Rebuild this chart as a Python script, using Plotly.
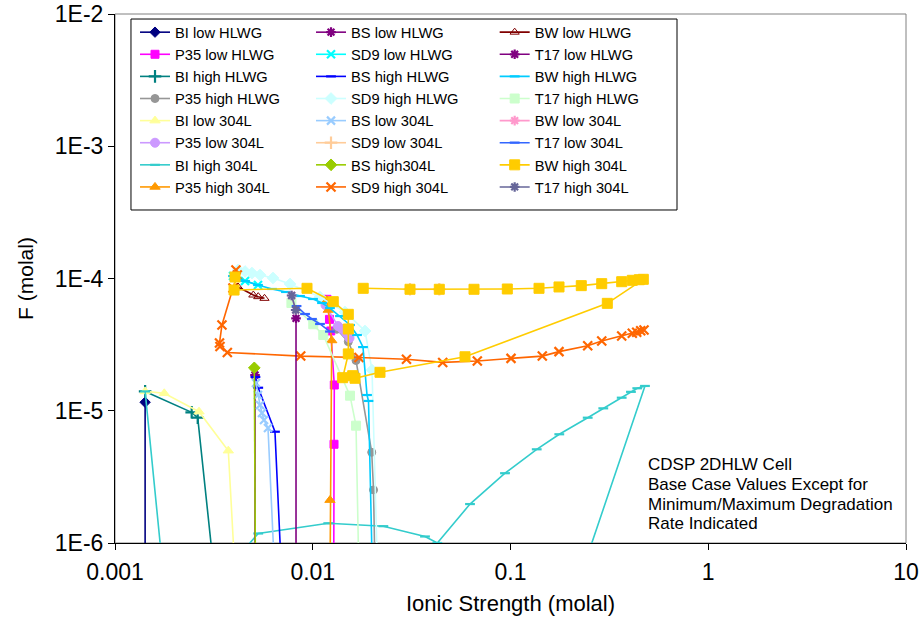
import plotly.graph_objects as go

# ---------------- data ----------------
BI_LOW_HLWG_X = [0.00142, 0.00142]
BI_LOW_HLWG_Y = [1.16e-5, 5e-7]
P35_LOW_HLWG_X = [0.0118, 0.01215, 0.01233, 0.01285, 0.01281, 0.01276]
P35_LOW_HLWG_Y = [6.96e-5, 4.91e-5, 4.01e-5, 1.566e-5, 5.58e-6, 5e-7]
BI_HIGH_HLWG_X = [0.00142, 0.002442, 0.00262, 0.00321]
BI_HIGH_HLWG_Y = [1.4e-5, 9.73e-6, 8.86e-6, 5e-7]
P35_HIGH_HLWG_X = [0.01322, 0.01513, 0.01655, 0.01987, 0.02029, 0.0207]
P35_HIGH_HLWG_Y = [4.13e-5, 3.33e-5, 2.40e-5, 4.85e-6, 2.52e-6, 5e-7]
BI_LOW_304L_X = [0.00142, 0.001775, 0.00266, 0.003741, 0.00407]
BI_LOW_304L_Y = [1.4e-5, 1.355e-5, 9.84e-6, 4.99e-6, 5e-7]
P35_LOW_304L_X = [0.0116, 0.01342, 0.01406, 0.01473, 0.01534]
P35_LOW_304L_Y = [6.30e-5, 4.37e-5, 4.15e-5, 3.87e-5, 3.55e-5]
BI_HIGH_304L_X = [0.00142, 0.00177, 0.0032, 0.0053, 0.01198, 0.02275, 0.03695, 0.04266,
                  0.0624, 0.0938, 0.1357, 0.1765, 0.2457, 0.2946, 0.365, 0.4065, 0.4376,
                  0.4786, 0.2203]
BI_HIGH_304L_Y = [1.4e-5, 5e-7, 5e-7, 1.18e-6, 1.41e-6, 1.34e-6, 1.12e-6, 1.0e-6,
                  1.97e-6, 3.37e-6, 5.11e-6, 6.64e-6, 8.86e-6, 1.043e-5, 1.255e-5, 1.39e-5,
                  1.479e-5, 1.54e-5, 5e-7]
P35_HIGH_304L_X = [0.01177, 0.01198, 0.01247, 0.01222, 0.01222]
P35_HIGH_304L_Y = [6.88e-5, 5.78e-5, 3.40e-5, 2.11e-6, 5e-7]

BS_LOW_HLWG_X = [0.005105, 0.005105]
BS_LOW_HLWG_Y = [1.862e-5, 5e-7]
SD9_LOW_HLWG_X = [0.003952, 0.004545, 0.005285]
SD9_LOW_HLWG_Y = [1.044e-4, 9.57e-5, 8.93e-5]
BS_HIGH_HLWG_X = [0.00513, 0.0053, 0.00644, 0.006982]
BS_HIGH_HLWG_Y = [1.80e-5, 1.493e-5, 6.94e-6, 5e-7]
SD9_HIGH_HLWG_X = [0.00419, 0.004545, 0.004929, 0.005412, 0.006295, 0.007674, 0.01088,
                   0.01456, 0.01838, 0.01994, 0.02133]
SD9_HIGH_HLWG_Y = [1.159e-4, 1.13e-4, 1.10e-4, 1.063e-4, 1.009e-4, 9.09e-5, 7.24e-5,
                   5.58e-5, 4.01e-5, 2.03e-5, 5e-7]
BS_LOW_304L_X = [0.005164, 0.005285, 0.005412, 0.005539, 0.005669, 0.005939, 0.006451]
BS_LOW_304L_Y = [1.622e-5, 1.315e-5, 1.105e-5, 9.62e-6, 8.51e-6, 7.41e-6, 5e-7]
SD9_LOW_304L_X = [0.03103, 0.04365]
SD9_LOW_304L_Y = [8.29e-5, 8.29e-5]
BS_HIGH304L_X = [0.005063, 0.005134]
BS_HIGH304L_Y = [2.11e-5, 5e-7]
SD9_HIGH_304L_X = [0.00409, 0.004154, 0.003952, 0.003475, 0.003376, 0.003396, 0.003698,
                   0.008691, 0.01713, 0.02979, 0.04541, 0.06795, 0.1006, 0.1448, 0.1759,
                   0.2457, 0.2893, 0.365, 0.413, 0.4347, 0.4554, 0.4733]
SD9_HIGH_304L_Y = [1.159e-4, 1.063e-4, 8.48e-5, 4.45e-5, 3.25e-5, 3.06e-5, 2.76e-5,
                   2.59e-5, 2.53e-5, 2.45e-5, 2.32e-5, 2.38e-5, 2.49e-5, 2.59e-5, 2.80e-5,
                   3.10e-5, 3.37e-5, 3.67e-5, 3.85e-5, 3.92e-5, 4.03e-5, 4.08e-5]

BW_LOW_HLWG_X = [0.00419, 0.005006, 0.0053, 0.005702]
BW_LOW_HLWG_Y = [8.63e-5, 7.50e-5, 7.29e-5, 7.08e-5]
T17_LOW_HLWG_X = [0.00823, 0.00823]
T17_LOW_HLWG_Y = [5.0e-5, 5e-7]
BW_HIGH_HLWG_X = [0.003952, 0.004545, 0.005285, 0.006222, 0.00732, 0.008621, 0.01003,
                  0.01114, 0.01222, 0.01373, 0.01543, 0.01674, 0.01795, 0.01881, 0.01914,
                  0.02008]
BW_HIGH_HLWG_Y = [1.044e-4, 9.57e-5, 8.93e-5, 8.33e-5, 7.91e-5, 7.37e-5, 7.0e-5,
                  6.53e-5, 5.98e-5, 5.20e-5, 4.45e-5, 3.74e-5, 3.03e-5, 1.315e-5, 1.186e-5,
                  5e-7]
T17_HIGH_HLWG_X = [0.0078, 0.01006, 0.0113, 0.01543, 0.01655, 0.01715]
T17_HIGH_HLWG_Y = [6.53e-5, 4.51e-5, 3.74e-5, 1.30e-5, 7.71e-6, 5e-7]
BW_LOW_304L_X = [0.00782, 0.0082]
BW_LOW_304L_Y = [7.44e-5, 5.78e-5]
T17_LOW_304L_X = [0.00828, 0.00914, 0.00991, 0.01088, 0.01222]
T17_LOW_304L_Y = [6.19e-5, 5.39e-5, 4.94e-5, 4.53e-5, 3.97e-5]
BW_HIGH_304L_X = [0.004045, 0.004, 0.009353, 0.0127, 0.01513, 0.01513, 0.01513, 0.01417,
                  0.01592, 0.01636, 0.02188, 0.05888, 0.3087, 0.4695, 0.448, 0.413, 0.365,
                  0.2893, 0.228, 0.1759, 0.1394, 0.09634, 0.06538, 0.04365, 0.03103, 0.018]
BW_HIGH_304L_Y = [1.026e-4, 8.18e-5, 8.43e-5, 6.68e-5, 5.36e-5, 4.15e-5, 2.69e-5, 1.778e-5,
                  1.841e-5, 1.76e-5, 1.953e-5, 2.56e-5, 6.49e-5, 9.86e-5, 9.79e-5, 9.69e-5,
                  9.46e-5, 9.14e-5, 8.83e-5, 8.63e-5, 8.43e-5, 8.33e-5, 8.29e-5, 8.29e-5,
                  8.29e-5, 8.43e-5]
T17_HIGH_304L_X = [0.00782, 0.0082]
T17_HIGH_304L_Y = [7.44e-5, 5.78e-5]

X_TICKS = [0.001, 0.01, 0.1, 1, 10]
X_TICK_LABELS = ["0.001", "0.01", "0.1", "1", "10"]
Y_TICKS = [1e-6, 1e-5, 1e-4, 1e-3, 1e-2]
Y_TICK_LABELS = ["1E-6", "1E-5", "1E-4", "1E-3", "1E-2"]

NOTE_LINES = ["CDSP 2DHLW Cell", "Base Case Values Except for",
              "Minimum/Maximum Degradation", "Rate Indicated"]

# series: name, x, y, colour, symbol, marker size
SERIES = [
    ("BI low HLWG", BI_LOW_HLWG_X, BI_LOW_HLWG_Y, "#000080", "diamond", 8),
    ("P35 low HLWG", P35_LOW_HLWG_X, P35_LOW_HLWG_Y, "#FF00FF", "square", 8),
    ("BI high HLWG", BI_HIGH_HLWG_X, BI_HIGH_HLWG_Y, "#008080", "cross-thin", 9),
    ("P35 high HLWG", P35_HIGH_HLWG_X, P35_HIGH_HLWG_Y, "#969696", "circle", 8),
    ("BI low 304L", BI_LOW_304L_X, BI_LOW_304L_Y, "#FFFF99", "triangle-up", 9),
    ("P35 low 304L", P35_LOW_304L_X, P35_LOW_304L_Y, "#CC99FF", "circle", 9),
    ("BI high 304L", BI_HIGH_304L_X, BI_HIGH_304L_Y, "#33CCCC", "line-ew", 7),
    ("P35 high 304L", P35_HIGH_304L_X, P35_HIGH_304L_Y, "#FF9900", "triangle-up", 9),
    ("BS low HLWG", BS_LOW_HLWG_X, BS_LOW_HLWG_Y, "#800080", "asterisk", 8),
    ("SD9 low HLWG", SD9_LOW_HLWG_X, SD9_LOW_HLWG_Y, "#00FFFF", "x-thin", 8),
    ("BS high HLWG", BS_HIGH_HLWG_X, BS_HIGH_HLWG_Y, "#0000FF", "line-ew", 7),
    ("SD9 high HLWG", SD9_HIGH_HLWG_X, SD9_HIGH_HLWG_Y, "#CCFFFF", "diamond", 9),
    ("BS low 304L", BS_LOW_304L_X, BS_LOW_304L_Y, "#99CCFF", "x-thin", 8),
    ("SD9 low 304L", SD9_LOW_304L_X, SD9_LOW_304L_Y, "#FFCC99", "cross-thin", 9),
    ("BS high304L", BS_HIGH304L_X, BS_HIGH304L_Y, "#99CC00", "diamond", 9),
    ("SD9 high 304L", SD9_HIGH_304L_X, SD9_HIGH_304L_Y, "#FF6600", "x-thin", 9),
    ("BW low HLWG", BW_LOW_HLWG_X, BW_LOW_HLWG_Y, "#800000", "triangle-up-open", 8),
    ("T17 low HLWG", T17_LOW_HLWG_X, T17_LOW_HLWG_Y, "#800080", "asterisk", 8),
    ("BW high HLWG", BW_HIGH_HLWG_X, BW_HIGH_HLWG_Y, "#00CCFF", "line-ew", 7),
    ("T17 high HLWG", T17_HIGH_HLWG_X, T17_HIGH_HLWG_Y, "#CCFFCC", "square", 9),
    ("BW low 304L", BW_LOW_304L_X, BW_LOW_304L_Y, "#FF99CC", "asterisk", 8),
    ("T17 low 304L", T17_LOW_304L_X, T17_LOW_304L_Y, "#3366FF", "line-ew", 7),
    ("BW high 304L", BW_HIGH_304L_X, BW_HIGH_304L_Y, "#FFCC00", "square", 10),
    ("T17 high 304L", T17_HIGH_304L_X, T17_HIGH_304L_Y, "#666699", "asterisk", 8),
]

FONT = "Liberation Sans, Arial, sans-serif"
LEGEND_IDS = ["legend", "legend2", "legend3"]

fig = go.Figure()
for i, (name, xs, ys, col, sym, size) in enumerate(SERIES):
    thin = sym in ("cross-thin", "x-thin", "asterisk", "line-ew")
    fig.add_trace(go.Scatter(
        x=xs, y=ys, name=name, mode="lines+markers",
        legend=LEGEND_IDS[i // 8],
        line=dict(color=col, width=1.6),
        marker=dict(symbol=sym, size=size, color=col,
                    line=dict(color=col, width=2.2 if thin else 1)),
    ))

leg_common = dict(font=dict(family=FONT, size=14.7, color="black"),
                  bgcolor="rgba(0,0,0,0)", borderwidth=0,
                  orientation="v", yanchor="top", xanchor="left",
                  tracegroupgap=0, y=0.996)

layout_legends = {}
for lid, lx in zip(LEGEND_IDS, [0.0253, 0.2478, 0.480]):
    d = dict(leg_common)
    d["x"] = lx
    layout_legends[lid] = d

fig.update_layout(
    template="none",
    width=920, height=627,
    margin=dict(l=115, r=14, t=14, b=84, autoexpand=False),
    paper_bgcolor="white", plot_bgcolor="white",
    font=dict(family=FONT, color="black"),
    showlegend=True,
    xaxis=dict(type="log", range=[-3, 1], tickvals=X_TICKS, ticktext=X_TICK_LABELS,
               ticks="outside", ticklen=6, tickcolor="black", tickwidth=1,
               showline=True, linecolor="black", linewidth=1, showgrid=False,
               zeroline=False, automargin=False, ticklabelstandoff=2,
               ticklabeloverflow="allow",
               tickfont=dict(family=FONT, size=23, color="black"),
               title=dict(text="Ionic Strength (molal)", standoff=12,
                          font=dict(family=FONT, size=22, color="black"))),
    yaxis=dict(type="log", range=[-6, -2], tickvals=Y_TICKS, ticktext=Y_TICK_LABELS,
               ticks="outside", ticklen=6, tickcolor="black", tickwidth=1,
               showline=True, linecolor="black", linewidth=1, showgrid=False,
               zeroline=False, automargin=False, ticklabeloverflow="allow",
               tickfont=dict(family=FONT, size=23, color="black"),
               title=dict(text="F (molal)", standoff=15,
                          font=dict(family=FONT, size=21, color="black"))),
    shapes=[
        dict(type="rect", xref="paper", yref="paper", x0=0, x1=1, y0=0, y1=1,
             line=dict(color="#808080", width=1), layer="below"),
        dict(type="rect", xref="paper", yref="paper", x0=0.0202, x1=0.7105,
             y0=0.6295, y1=0.9905, line=dict(color="black", width=1),
             fillcolor="white", layer="above"),
    ],
    **layout_legends,
)

for k, txt in enumerate(NOTE_LINES):
    fig.add_annotation(text=txt, xref="paper", yref="paper", x=0.6713,
                       y=[0.1475, 0.1105, 0.0728, 0.0365][k],
                       xanchor="left", yanchor="middle", showarrow=False,
                       font=dict(family=FONT, size=17, color="black"))

# remove the browser's default body margin so the figure sits at the window origin
fig.write_html("out.html",
               config={"displayModeBar": False},
               post_script="document.body.style.margin='0';document.body.style.overflow='hidden';")
